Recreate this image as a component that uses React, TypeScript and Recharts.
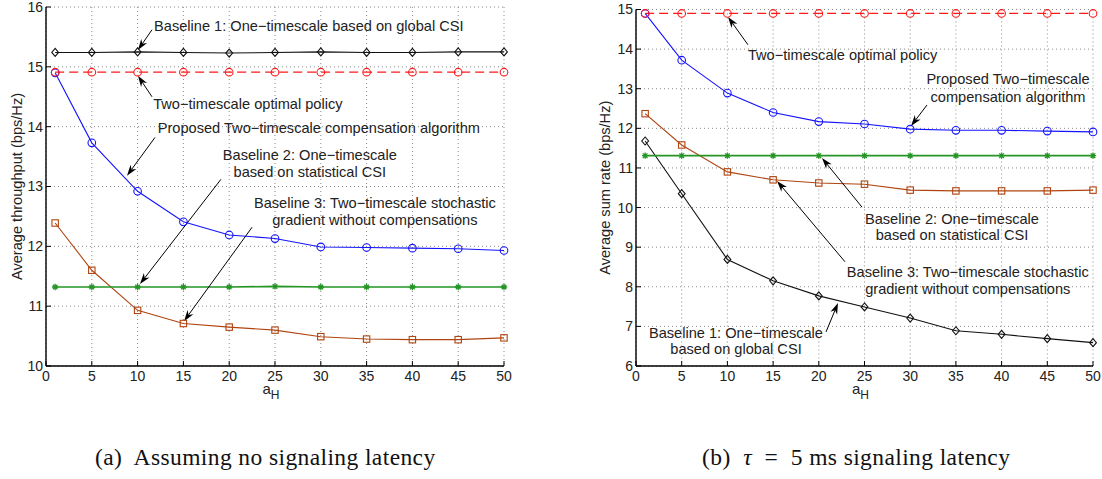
import React from "react";
import { LineChart, Line, XAxis, YAxis, CartesianGrid, ReferenceLine, ReferenceDot } from "recharts";

const FONT = "'Liberation Sans', Arial, Helvetica, sans-serif";
const TEXT = "#222";

// x values (a_H) and tick marks
const aH = [1, 5, 10, 15, 20, 25, 30, 35, 40, 45, 50];
const xTicks = [0, 5, 10, 15, 20, 25, 30, 35, 40, 45, 50];

// (a) no signaling latency
const baseline1A = [15.24, 15.24, 15.25, 15.24, 15.23, 15.24, 15.25, 15.24, 15.24, 15.25, 15.25];
const optimalA = [14.91, 14.91, 14.91, 14.91, 14.91, 14.91, 14.91, 14.91, 14.91, 14.91, 14.91];
const proposedA = [14.9, 13.73, 12.92, 12.41, 12.19, 12.13, 11.99, 11.98, 11.97, 11.96, 11.93];
const baseline2A = [11.32, 11.32, 11.32, 11.32, 11.32, 11.33, 11.32, 11.32, 11.32, 11.32, 11.32];
const baseline3A = [12.39, 11.6, 10.93, 10.71, 10.65, 10.6, 10.49, 10.45, 10.44, 10.44, 10.47];
const yTicksA = [10, 11, 12, 13, 14, 15, 16];

// (b) tau = 5 ms
const baseline1B = [11.68, 10.35, 8.69, 8.15, 7.77, 7.49, 7.21, 6.89, 6.8, 6.69, 6.59];
const optimalB = [14.9, 14.9, 14.9, 14.9, 14.9, 14.9, 14.9, 14.9, 14.9, 14.9, 14.9];
const proposedB = [14.9, 13.72, 12.89, 12.4, 12.17, 12.11, 11.98, 11.95, 11.95, 11.93, 11.91];
const baseline2B = [11.31, 11.31, 11.31, 11.31, 11.31, 11.31, 11.31, 11.31, 11.31, 11.31, 11.31];
const baseline3B = [12.37, 11.58, 10.9, 10.7, 10.62, 10.59, 10.44, 10.42, 10.42, 10.42, 10.44];
const yTicksB = [6, 7, 8, 9, 10, 11, 12, 13, 14, 15];

type Note = { lines: string[]; x: number; y: number; anchor: "start" | "middle"; gap?: number };
type Arrow = { from: [number, number]; to: [number, number] };

// annotations, in data coordinates
const notesA: Note[] = [
  { lines: ["Baseline 1: One\u2212timescale based on global CSI"], x: 11.8, y: 15.68, anchor: "start" },
  { lines: ["Two\u2212timescale optimal policy"], x: 11.7, y: 14.38, anchor: "start" },
  { lines: ["Proposed Two\u2212timescale compensation algorithm"], x: 12.2, y: 13.98, anchor: "start" },
  { lines: ["Baseline 2: One\u2212timescale", "based on statistical CSI"], x: 28.8, y: 13.53, anchor: "middle" },
  { lines: ["Baseline 3: Two\u2212timescale stochastic", "gradient without compensations"], x: 35.9, y: 12.73, anchor: "middle" },
];
const arrowsA: Arrow[] = [
  { from: [11.57, 15.62], to: [10.04, 15.28] },
  { from: [11.57, 14.5], to: [10.04, 14.85] },
  { from: [11.9, 13.82], to: [8.84, 13.18] },
  { from: [19.1, 13.12], to: [10.26, 11.37] },
  { from: [22.5, 12.32], to: [15.07, 10.75] },
];

const notesB: Note[] = [
  { lines: ["Two\u2212timescale optimal policy"], x: 12.25, y: 13.85, anchor: "start" },
  { lines: ["Proposed Two\u2212timescale", "compensation algorithm"], x: 40.7, y: 13.25, anchor: "middle", gap: 18 },
  { lines: ["Baseline 2: One\u2212timescale", "based on statistical CSI"], x: 34.57, y: 9.71, anchor: "middle", gap: 16 },
  { lines: ["Baseline 3: Two\u2212timescale stochastic", "gradient without compensations"], x: 36.3, y: 8.37, anchor: "middle" },
  { lines: ["Baseline 1: One\u2212timescale", "based on global CSI"], x: 10.94, y: 6.83, anchor: "middle", gap: 16 },
];
const arrowsB: Arrow[] = [
  { from: [12.25, 14.11], to: [10.07, 14.81] },
  { from: [31.84, 12.59], to: [30.09, 12.06] },
  { from: [24.73, 10.01], to: [20.35, 11.25] },
  { from: [22.87, 8.63], to: [15.43, 10.67] },
  { from: [20.79, 6.86], to: [22.1, 7.59] },
];

// ---- markers ----
const circleDot = (color: string) => (p: any) => (
  <circle key={`c${p.index}`} cx={p.cx} cy={p.cy} r={3.8} fill="none" stroke={color} strokeWidth={1.1} />
);
const diamondDot = (color: string) => (p: any) => (
  <path
    key={`d${p.index}`}
    d={`M${p.cx},${p.cy - 4}L${p.cx + 3.4},${p.cy}L${p.cx},${p.cy + 4}L${p.cx - 3.4},${p.cy}Z`}
    fill="none"
    stroke={color}
    strokeWidth={1.1}
  />
);
const squareDot = (color: string) => (p: any) => (
  <rect key={`s${p.index}`} x={p.cx - 3.2} y={p.cy - 3.2} width={6.4} height={6.4} fill="none" stroke={color} strokeWidth={1.1} />
);
const starDot = (color: string) => (p: any) => (
  <path
    key={`t${p.index}`}
    d={`M${p.cx - 3.2},${p.cy}H${p.cx + 3.2}M${p.cx},${p.cy - 3.2}V${p.cy + 3.2}M${p.cx - 2.3},${p.cy - 2.3}L${p.cx + 2.3},${p.cy + 2.3}M${p.cx - 2.3},${p.cy + 2.3}L${p.cx + 2.3},${p.cy - 2.3}`}
    stroke={color}
    strokeWidth={1.3}
  />
);

const arrowShape = (p: any) => {
  const { x1, y1, x2, y2 } = p;
  const a = Math.atan2(y2 - y1, x2 - x1);
  const c = Math.cos(a);
  const s = Math.sin(a);
  const L = 11;
  const W = 3.6;
  const bx = x2 - L * c;
  const by = y2 - L * s;
  const nx = x2 - L * 0.7 * c;
  const ny = y2 - L * 0.7 * s;
  return (
    <g>
      <line x1={x1} y1={y1} x2={nx} y2={ny} stroke="#000" strokeWidth={1} />
      <polygon
        points={`${x2},${y2} ${bx - W * s},${by + W * c} ${nx},${ny} ${bx + W * s},${by - W * c}`}
        fill="#000"
      />
    </g>
  );
};

const noteShape = (n: Note) => (p: any) => (
  <text x={p.cx} y={p.cy} textAnchor={n.anchor} fontSize={14.6} fontFamily={FONT} fill={TEXT}>
    {n.lines.map((l, i) => (
      <tspan key={i} x={p.cx} dy={i === 0 ? "0.35em" : n.gap ?? 17}>
        {l}
      </tspan>
    ))}
  </text>
);

type Series = { key: string; values: number[]; color: string; dash?: string; width?: number; dot: (c: string) => (p: any) => any };

function Panel({
  series,
  yDomain,
  yTicks,
  notes,
  arrows,
  yLabel,
  width,
  yAxisWidth,
  top,
  right,
  yLabelX,
}: {
  series: Series[];
  yDomain: [number, number];
  yTicks: number[];
  notes: Note[];
  arrows: Arrow[];
  yLabel: string;
  width: number;
  yAxisWidth: number;
  top: number;
  right: number;
  yLabelX: number;
}) {
  const rows = aH.map((x, i) => {
    const r: Record<string, number> = { x };
    series.forEach((s) => (r[s.key] = s.values[i]));
    return r;
  });
  const tickStyle = { fill: TEXT, fontSize: 14, fontFamily: FONT };
  return (
    <LineChart width={width} height={420} data={rows} margin={{ top, right, bottom: 0, left: 0 }}>
      <CartesianGrid stroke="#8a8a8a" strokeDasharray="1 3" strokeWidth={1} />
      <XAxis
        xAxisId={0}
        type="number"
        dataKey="x"
        domain={[0, 50]}
        ticks={xTicks}
        interval={0}
        height={54}
        tickSize={-5}
        tickMargin={10}
        tick={tickStyle}
        axisLine={{ stroke: "#000", strokeWidth: 1.4 }}
        tickLine={{ stroke: "#000" }}
        label={{
          content: (lp: any) => {
            const vb = lp.viewBox;
            const cx = vb.x + vb.width / 2 - 4;
            return (
              <text x={cx} y={vb.y + 28} fontSize={15} fontFamily={FONT} fill={TEXT} textAnchor="middle">
                <tspan>a</tspan>
                <tspan dy={5} fontSize={12}>
                  H
                </tspan>
              </text>
            );
          },
        }}
      />
      <XAxis
        xAxisId="top"
        orientation="top"
        type="number"
        domain={[0, 50]}
        ticks={xTicks}
        interval={0}
        height={0}
        tickSize={-5}
        tick={false}
        axisLine={{ stroke: "#000", strokeWidth: 1.4 }}
        tickLine={{ stroke: "#000" }}
      />
      <YAxis
        yAxisId={0}
        type="number"
        domain={yDomain}
        ticks={yTicks}
        interval={0}
        width={yAxisWidth}
        tickSize={-5}
        tickMargin={8}
        tick={tickStyle}
        axisLine={{ stroke: "#000", strokeWidth: 1.4 }}
        tickLine={{ stroke: "#000" }}
        label={{
          content: (lp: any) => {
            const vb = lp.viewBox;
            const cy = vb.y + vb.height / 2;
            return (
              <text
                x={yLabelX}
                y={cy}
                transform={`rotate(-90 ${yLabelX} ${cy})`}
                textAnchor="middle"
                dominantBaseline="central"
                fontSize={14.6}
                fontFamily={FONT}
                fill={TEXT}
              >
                {yLabel}
              </text>
            );
          },
        }}
      />
      <YAxis
        yAxisId="right"
        orientation="right"
        type="number"
        domain={yDomain}
        ticks={yTicks}
        interval={0}
        width={0}
        tickSize={-5}
        tick={false}
        axisLine={{ stroke: "#000", strokeWidth: 1.4 }}
        tickLine={{ stroke: "#000" }}
      />
      {series.map((s) => (
        <Line
          key={s.key}
          dataKey={s.key}
          type="linear"
          stroke={s.color}
          strokeWidth={s.width ?? 1.1}
          strokeDasharray={s.dash}
          dot={s.dot(s.color)}
          activeDot={false}
          isAnimationActive={false}
        />
      ))}
      {arrows.map((a, i) => (
        <ReferenceLine
          key={`ar${i}`}
          segment={[
            { x: a.from[0], y: a.from[1] },
            { x: a.to[0], y: a.to[1] },
          ]}
          ifOverflow="visible"
          shape={arrowShape}
        />
      ))}
      {notes.map((n, i) => (
        <ReferenceDot key={`n${i}`} x={n.x} y={n.y} ifOverflow="visible" shape={noteShape(n)} />
      ))}
    </LineChart>
  );
}

const RED = "#ff1a1a";
const BLUE = "#1414ff";
const GREEN = "#259625";
const BROWN = "#b0440f";
const BLACK = "#111";

const seriesA: Series[] = [
  { key: "b3", values: baseline3A, color: BROWN, dot: squareDot },
  { key: "b2", values: baseline2A, color: GREEN, width: 1.6, dot: starDot },
  { key: "prop", values: proposedA, color: BLUE, dot: circleDot },
  { key: "opt", values: optimalA, color: RED, dash: "9 5", width: 1.3, dot: circleDot },
  { key: "b1", values: baseline1A, color: BLACK, dot: diamondDot },
];
const seriesB: Series[] = [
  { key: "b1", values: baseline1B, color: BLACK, dot: diamondDot },
  { key: "b3", values: baseline3B, color: BROWN, dot: squareDot },
  { key: "b2", values: baseline2B, color: GREEN, width: 1.6, dot: starDot },
  { key: "prop", values: proposedB, color: BLUE, dot: circleDot },
  { key: "opt", values: optimalB, color: RED, dash: "9 5", width: 1.3, dot: circleDot },
];

const captionStyle: React.CSSProperties = {
  position: "absolute",
  top: 445,
  fontFamily: "'Liberation Serif', 'Times New Roman', serif",
  fontSize: 23.5,
  lineHeight: "25px",
  letterSpacing: "0.4px",
  color: "#111",
  whiteSpace: "nowrap",
};

export default function App() {
  return (
    <div style={{ position: "absolute", left: 0, top: 0, width: 1102, height: 479, background: "#fff", overflow: "hidden" }}>
      <div style={{ position: "absolute", left: 0, top: 0 }}>
        <Panel
          series={seriesA}
          yDomain={[10, 16]}
          yTicks={yTicksA}
          notes={notesA}
          arrows={arrowsA}
          yLabel="Average throughput (bps/Hz)"
          width={520}
          yAxisWidth={46}
          top={7}
          right={16}
          yLabelX={17}
        />
      </div>
      <div style={{ position: "absolute", left: 560, top: 0 }}>
        <Panel
          series={seriesB}
          yDomain={[6, 15]}
          yTicks={yTicksB}
          notes={notesB}
          arrows={arrowsB}
          yLabel="Average sum rate (bps/Hz)"
          width={542}
          yAxisWidth={76}
          top={9.5}
          right={9}
          yLabelX={45}
        />
      </div>
      <div style={{ ...captionStyle, left: 95 }}>(a)&nbsp; Assuming no signaling latency</div>
      <div style={{ ...captionStyle, left: 702 }}>
        (b)&nbsp; <i>{"\u03c4"}</i>&nbsp;&nbsp;=&nbsp;&nbsp;5 ms signaling latency
      </div>
    </div>
  );
}
